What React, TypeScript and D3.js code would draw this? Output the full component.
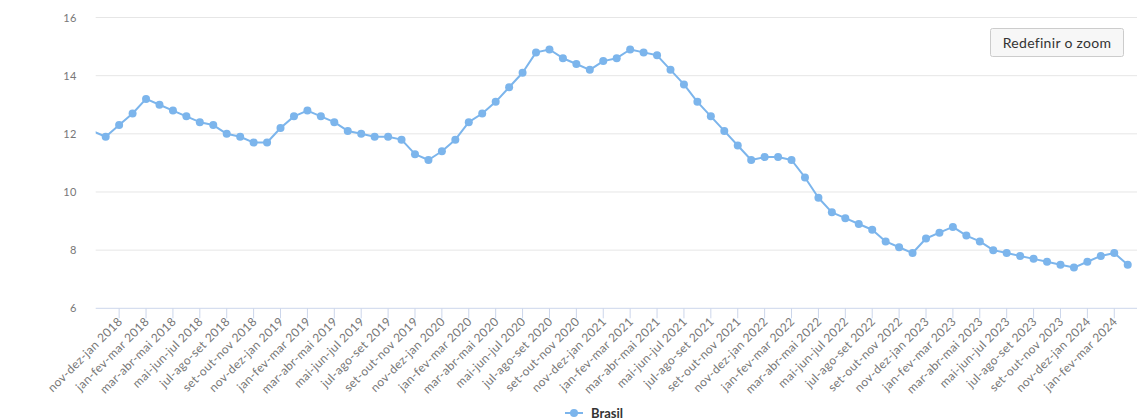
import React, { useRef, useEffect } from "react";
import * as d3 from "d3";

// trimestres móveis, set-out-nov 2017 até fev-mar-abr 2024
const CATEGORIES = [
  "set-out-nov 2017", "out-nov-dez 2017",
  "nov-dez-jan 2018", "dez-jan-fev 2018", "jan-fev-mar 2018", "fev-mar-abr 2018", "mar-abr-mai 2018", "abr-mai-jun 2018",
  "mai-jun-jul 2018", "jun-jul-ago 2018", "jul-ago-set 2018", "ago-set-out 2018", "set-out-nov 2018", "out-nov-dez 2018",
  "nov-dez-jan 2019", "dez-jan-fev 2019", "jan-fev-mar 2019", "fev-mar-abr 2019", "mar-abr-mai 2019", "abr-mai-jun 2019",
  "mai-jun-jul 2019", "jun-jul-ago 2019", "jul-ago-set 2019", "ago-set-out 2019", "set-out-nov 2019", "out-nov-dez 2019",
  "nov-dez-jan 2020", "dez-jan-fev 2020", "jan-fev-mar 2020", "fev-mar-abr 2020", "mar-abr-mai 2020", "abr-mai-jun 2020",
  "mai-jun-jul 2020", "jun-jul-ago 2020", "jul-ago-set 2020", "ago-set-out 2020", "set-out-nov 2020", "out-nov-dez 2020",
  "nov-dez-jan 2021", "dez-jan-fev 2021", "jan-fev-mar 2021", "fev-mar-abr 2021", "mar-abr-mai 2021", "abr-mai-jun 2021",
  "mai-jun-jul 2021", "jun-jul-ago 2021", "jul-ago-set 2021", "ago-set-out 2021", "set-out-nov 2021", "out-nov-dez 2021",
  "nov-dez-jan 2022", "dez-jan-fev 2022", "jan-fev-mar 2022", "fev-mar-abr 2022", "mar-abr-mai 2022", "abr-mai-jun 2022",
  "mai-jun-jul 2022", "jun-jul-ago 2022", "jul-ago-set 2022", "ago-set-out 2022", "set-out-nov 2022", "out-nov-dez 2022",
  "nov-dez-jan 2023", "dez-jan-fev 2023", "jan-fev-mar 2023", "fev-mar-abr 2023", "mar-abr-mai 2023", "abr-mai-jun 2023",
  "mai-jun-jul 2023", "jun-jul-ago 2023", "jul-ago-set 2023", "ago-set-out 2023", "set-out-nov 2023", "out-nov-dez 2023",
  "nov-dez-jan 2024", "dez-jan-fev 2024", "jan-fev-mar 2024", "fev-mar-abr 2024",
];

const BRASIL = [
  12.1, 11.9,
  12.3, 12.7, 13.2, 13.0, 12.8, 12.6, 12.4, 12.3, 12.0, 11.9, 11.7, 11.7,
  12.2, 12.6, 12.8, 12.6, 12.4, 12.1, 12.0, 11.9, 11.9, 11.8, 11.3, 11.1,
  11.4, 11.8, 12.4, 12.7, 13.1, 13.6, 14.1, 14.8, 14.9, 14.6, 14.4, 14.2,
  14.5, 14.6, 14.9, 14.8, 14.7, 14.2, 13.7, 13.1, 12.6, 12.1, 11.6, 11.1,
  11.2, 11.2, 11.1, 10.5, 9.8, 9.3, 9.1, 8.9, 8.7, 8.3, 8.1, 7.9,
  8.4, 8.6, 8.8, 8.5, 8.3, 8.0, 7.9, 7.8, 7.7, 7.6, 7.5, 7.4,
  7.6, 7.8, 7.9, 7.5,
];

const Y_TICKS = [6, 8, 10, 12, 14, 16];
const SERIES_NAME = "Brasil";
const RESET_LABEL = "Redefinir o zoom";

const WIDTH = 1145;
const HEIGHT = 419;
const PLOT = { left: 95.7, right: 1137, top: 17.5, bottom: 308.3 };
const X_VIEW: [number, number] = [0.257, 77.69]; // janela do zoom
const COLOR = "#7cb5ec";
const FONT = "Lato, 'Open Sans', sans-serif";

export default function App() {
  const svgRef = useRef<SVGSVGElement | null>(null);

  useEffect(() => {
    if (!svgRef.current) return;
    const svg = d3.select(svgRef.current);
    svg.selectAll("*").remove();

    const x = d3.scaleLinear().domain(X_VIEW).range([PLOT.left, PLOT.right]);
    const y = d3.scaleLinear().domain([6, 16]).range([PLOT.bottom, PLOT.top]);

    const defs = svg.append("defs");
    defs
      .append("clipPath")
      .attr("id", "plot-clip")
      .append("rect")
      .attr("x", PLOT.left)
      .attr("y", 0)
      .attr("width", PLOT.right - PLOT.left)
      .attr("height", PLOT.bottom + 5);
    // o container corta os rótulos à esquerda
    defs
      .append("clipPath")
      .attr("id", "label-clip")
      .append("rect")
      .attr("x", 48)
      .attr("y", 0)
      .attr("width", WIDTH - 48)
      .attr("height", HEIGHT);

    // grade
    svg
      .append("g")
      .selectAll("line")
      .data(Y_TICKS.filter((t) => t !== 6))
      .join("line")
      .attr("x1", PLOT.left)
      .attr("x2", PLOT.right)
      .attr("y1", (d) => y(d))
      .attr("y2", (d) => y(d))
      .attr("stroke", "#e6e6e6")
      .attr("stroke-width", 1);

    // rótulos eixo Y
    svg
      .append("g")
      .selectAll("text")
      .data(Y_TICKS)
      .join("text")
      .attr("x", 77)
      .attr("y", (d) => y(d) + 4)
      .attr("text-anchor", "end")
      .attr("font-family", FONT)
      .attr("font-size", 11)
      .attr("letter-spacing", 0.5)
      .attr("fill", "#777")
      .text((d) => d);

    // eixo X
    svg
      .append("line")
      .attr("x1", PLOT.left)
      .attr("x2", PLOT.right)
      .attr("y1", PLOT.bottom)
      .attr("y2", PLOT.bottom)
      .attr("stroke", "#ccd6eb");

    const tickIdx = CATEGORIES.map((_, i) => i).filter(
      (i) => i % 2 === 0 && x(i) >= PLOT.left && x(i) <= PLOT.right
    );

    const axis = svg.append("g").attr("clip-path", "url(#label-clip)");
    axis
      .selectAll("line")
      .data(tickIdx)
      .join("line")
      .attr("x1", (d) => x(d))
      .attr("x2", (d) => x(d))
      .attr("y1", PLOT.bottom)
      .attr("y2", PLOT.bottom + 10)
      .attr("stroke", "#ccd6eb");

    axis
      .selectAll("text")
      .data(tickIdx)
      .join("text")
      .attr("transform", (d) => `translate(${x(d) + 4},${PLOT.bottom + 14}) rotate(-45)`)
      .attr("text-anchor", "end")
      .attr("font-family", FONT)
      .attr("font-size", 12)
      .attr("letter-spacing", 0.4)
      .attr("fill", "#777")
      .text((d) => CATEGORIES[d]);

    // série
    const pts = BRASIL.map((v, i) => [i, v] as [number, number]);
    const line = d3
      .line<[number, number]>()
      .x((d) => x(d[0]))
      .y((d) => y(d[1]));

    svg
      .append("path")
      .datum(pts)
      .attr("clip-path", "url(#plot-clip)")
      .attr("fill", "none")
      .attr("stroke", COLOR)
      .attr("stroke-width", 2)
      .attr("stroke-linejoin", "round")
      .attr("d", line);

    svg
      .append("g")
      .selectAll("circle")
      .data(pts.filter((d) => x(d[0]) >= PLOT.left && x(d[0]) <= PLOT.right))
      .join("circle")
      .attr("cx", (d) => x(d[0]))
      .attr("cy", (d) => y(d[1]))
      .attr("r", 4)
      .attr("fill", COLOR);

    // botão de zoom
    const btn = svg.append("g").attr("transform", "translate(990.5,28.5)");
    btn
      .append("rect")
      .attr("width", 133)
      .attr("height", 28)
      .attr("rx", 2)
      .attr("fill", "#f7f7f7")
      .attr("stroke", "#cccccc");
    btn
      .append("text")
      .attr("x", 66.5)
      .attr("y", 19)
      .attr("text-anchor", "middle")
      .attr("font-family", FONT)
      .attr("font-size", 14)
      .attr("letter-spacing", 0.3)
      .attr("fill", "#333")
      .text(RESET_LABEL);

    // legenda
    const legend = svg.append("g").attr("transform", "translate(565,413)");
    legend
      .append("line")
      .attr("x1", 0)
      .attr("x2", 18)
      .attr("stroke", COLOR)
      .attr("stroke-width", 2);
    legend.append("circle").attr("cx", 9).attr("r", 4).attr("fill", COLOR);
    legend
      .append("text")
      .attr("x", 26)
      .attr("y", 4.5)
      .attr("font-family", FONT)
      .attr("font-size", 13)
      .attr("font-weight", "bold")
      .attr("fill", "#333")
      .text(SERIES_NAME);
  }, []);

  return (
    <svg
      ref={svgRef}
      width={WIDTH}
      height={HEIGHT}
      style={{ position: "absolute", left: 0, top: 0, background: "#fff" }}
    />
  );
}
